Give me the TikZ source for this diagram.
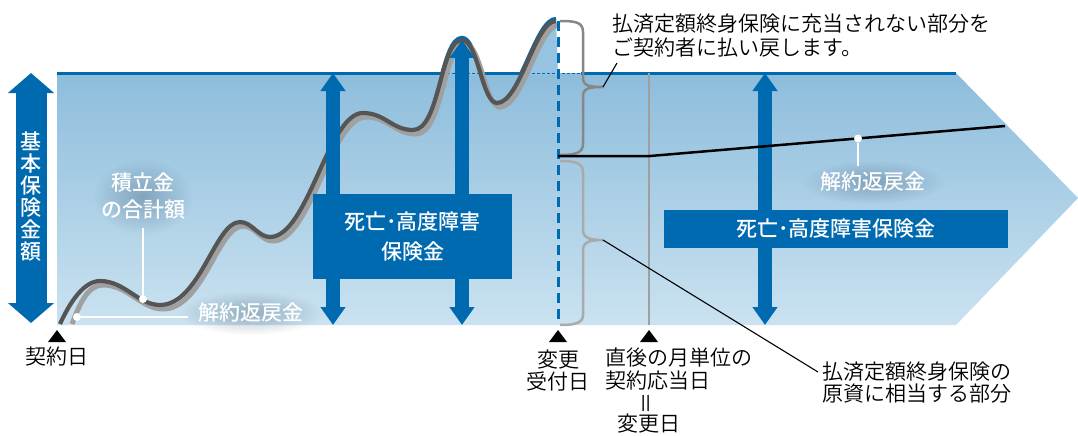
\documentclass[tikz,border=0pt]{standalone}
\usepackage{fontspec}
\newfontfamily\jpl{Noto Sans CJK JP}[UprightFont=* DemiLight]
\newfontfamily\jpm{Noto Sans CJK JP}[UprightFont=* Medium]
\usetikzlibrary{arrows.meta,fadings}
\tikzfading[name=softglow, inner color=transparent!0, outer color=transparent!100]
\definecolor{mblue}{RGB}{0,106,176}
\definecolor{bandtop}{RGB}{141,189,220}
\definecolor{bandbot}{RGB}{202,226,240}
\definecolor{filltop}{RGB}{150,195,224}
\definecolor{dkgray}{RGB}{85,85,85}
\definecolor{ltgray}{RGB}{160,160,160}
\definecolor{brcdark}{RGB}{135,135,135}
\definecolor{brclight}{RGB}{170,170,170}
\definecolor{glowc}{RGB}{70,100,125}
\def\maincurve{(60,324) .. controls (70,302) and (84,281) .. (100,281)
 .. controls (125,281) and (138,305) .. (160,305)
 .. controls (200,305) and (215,222) .. (240,222)
 .. controls (252,222) and (258,237) .. (270,237)
 .. controls (308,237) and (328,113) .. (363,113)
 .. controls (385,113) and (392,130) .. (413,130)
 .. controls (440,130) and (440,40) .. (462,40)
 .. controls (478,40) and (482,103) .. (497,103)
 .. controls (520,103) and (535,21) .. (556,21)}
\def\lightcurve{(72,324) .. controls (80,303) and (88,285) .. (103,285)
 .. controls (128,285) and (141,309) .. (163,309)
 .. controls (203,309) and (218,226) .. (243,226)
 .. controls (255,226) and (261,241) .. (273,241)
 .. controls (311,241) and (331,117) .. (366,117)
 .. controls (388,117) and (395,134) .. (416,134)
 .. controls (443,134) and (443,44) .. (465,44)
 .. controls (481,44) and (485,107) .. (500,107)
 .. controls (523,107) and (538,25) .. (559,25)}
\begin{document}
\begin{tikzpicture}[x=1pt,y=-1pt,
  blk/.style={font=\jpl\fontsize{21}{23}\selectfont, text=black, inner sep=0pt},
  wht/.style={font=\jpm\fontsize{21}{23}\selectfont, text=white, inner sep=0pt},
  bluebox/.style={fill=mblue, text=white, font=\jpm\fontsize{21}{30}\selectfont, align=center, inner sep=0pt},
  dblarrow/.style={draw=mblue, line width=14pt, {Triangle[width=24pt,length=18pt]}-{Triangle[width=24pt,length=18pt]}},
  leader/.style={draw=black, line width=1.1pt},
  whiteline/.style={draw=white, line width=2.2pt},
  dotw/.style={circle, fill=white, minimum size=8pt, inner sep=0pt},
  haze/.style={fill=glowc, opacity=0.4, path fading=softglow}]
\useasboundingbox (0,0) rectangle (1078,436);
\fill[white] (0,0) rectangle (1078,436);
% band
\shade[top color=bandtop, bottom color=bandbot] (57,73) -- (956,73) -- (1078,198) -- (956,325) -- (57,325) -- cycle;
% top thick line
\draw[mblue, line width=3pt] (57,73) -- (558,73);
\draw[mblue, line width=3pt] (581,73) -- (956,73);
% fill above line under curve
\begin{scope}
\clip (380,0) rectangle (558,74.6);
\fill[filltop, shift={(0,-2.5)}] \maincurve -- (558,80) -- (60,80) -- cycle;
\end{scope}
\draw[mblue, line width=0.8pt, dash pattern=on 3pt off 2pt] (432,73) -- (581,73);
% blue outline above line
\begin{scope}
\clip (380,0) rectangle (560,73);
\draw[mblue, line width=3.2pt, shift={(0,-2.6)}] \maincurve;
\end{scope}
% curves
\begin{scope}
\clip (0,0) rectangle (558,324);
\draw[ltgray, line width=5pt] \lightcurve;
\end{scope}
\draw[dkgray, line width=4.2pt] \maincurve;
% vertical lines
\draw[gray!75, line width=2pt] (649,73) -- (649,325);
\draw[mblue, line width=3pt, dash pattern=on 10pt off 6pt] (558,21) -- (558,325);
% arrows
\coordinate (lt) at (31,73); \coordinate (lb) at (31,323);
\draw[draw=mblue, line width=31pt, {Triangle[width=45pt,length=20pt]}-{Triangle[width=45pt,length=20pt]}] (lt) -- (lb);
\coordinate (a1t) at (333,73); \coordinate (a1b) at (333,325);
\coordinate (a2t) at (462,40); \coordinate (a2b) at (462,325);
\coordinate (a3t) at (765,73); \coordinate (a3b) at (765,325);
\draw[dblarrow] (a1t) -- (a1b);
\draw[dblarrow] (a2t) -- (a2b);
\draw[dblarrow] (a3t) -- (a3b);
\node[wht, align=center, font=\jpm\fontsize{21}{22}\selectfont] (kihon) at (31,197) {基\\本\\保\\険\\金\\額};
% boxes
\node[bluebox, minimum width=199pt, minimum height=85pt] (box1) at (412.5,236.5) {死亡･高度障害\\保険金};
\node[bluebox, minimum width=344pt, minimum height=38pt] (box2) at (836,229) {死亡･高度障害保険金};
% braces
\draw[brcdark, line width=2.5pt] (560,21) .. controls (575,21) and (583,22) .. (583,32) -- (583,78) .. controls (583,86) and (590,87) .. (603,87) .. controls (590,87) and (583,88) .. (583,96) -- (583,144) .. controls (583,153) and (575,155) .. (560,155);
\draw[brclight, line width=2.5pt] (560,161) .. controls (575,161) and (583,163) .. (583,172) -- (583,230) .. controls (583,238) and (590,240) .. (603,240) .. controls (590,240) and (583,242) .. (583,250) -- (583,315) .. controls (583,323) and (575,325) .. (560,325);
% black line after change
\draw[black, line width=2.5pt] (558,156) -- (650,156) -- (1005,126);
% soft haze behind white labels
\fill[haze] (143,196.5) ellipse (50pt and 38pt);
\fill[haze] (251,313) ellipse (72pt and 22pt);
\fill[haze] (873,182) ellipse (72pt and 22pt);
% dots and labels (white)
\node[dotw] (d1) at (143,299) {};
\coordinate (d1e) at (143,228);
\draw[whiteline] (d1) -- (d1e);
\node[wht, align=center, font=\jpm\fontsize{21}{27}\selectfont] (tsumi) at (143,196.5) {積立金\\の合計額};
\node[dotw] (d2) at (77,317) {};
\coordinate (d2e) at (188,317);
\draw[whiteline, line width=2.6pt] (d2) -- (d2e);
\node[wht] (kai1) at (251,313) {解約返戻金};
\node[dotw] (d3) at (858,138.5) {};
\coordinate (d3e) at (858,166);
\draw[whiteline] (d3) -- (d3e);
\node[wht] (kai2) at (873,182) {解約返戻金};
% triangles
\fill[black] (48,342) -- (66,342) -- (57,330) -- cycle;
\fill[black] (549,342) -- (567,342) -- (558,330) -- cycle;
\fill[black] (640,342) -- (658,342) -- (649,330) -- cycle;
% black labels
\node[blk] (keiyaku) at (57,357) {契約日};
\node[blk, align=center, font=\jpl\fontsize{21}{22}\selectfont] (henko) at (558,370.5) {変更\\受付日};
\node[blk, align=left, anchor=west, font=\jpl\fontsize{21}{23}\selectfont] (chokugo) at (605,369.5) {直後の月単位の\\契約応当日};
\node[blk, rotate=90, font=\jpl\fontsize{22}{22}\selectfont] (eq) at (649,403) {＝};
\node[blk] (henkobi) at (649,424) {変更日};
\node[blk, align=left, anchor=west, font=\jpl\fontsize{21}{24}\selectfont] (upper) at (612,36) {払済定額終身保険に充当されない部分を\\ご契約者に払い戻します。};
\node[blk, align=left, anchor=west, font=\jpl\fontsize{21}{22}\selectfont] (lower) at (822,383) {払済定額終身保険の\\原資に相当する部分};
% leaders
\coordinate (b1tip) at (603,87); \coordinate (b1end) at (617,63);
\coordinate (b2tip) at (603,240); \coordinate (b2end) at (818,372);
\draw[leader] (b1tip) -- (b1end);
\draw[leader] (b2tip) -- (b2end);
\end{tikzpicture}
\end{document}
